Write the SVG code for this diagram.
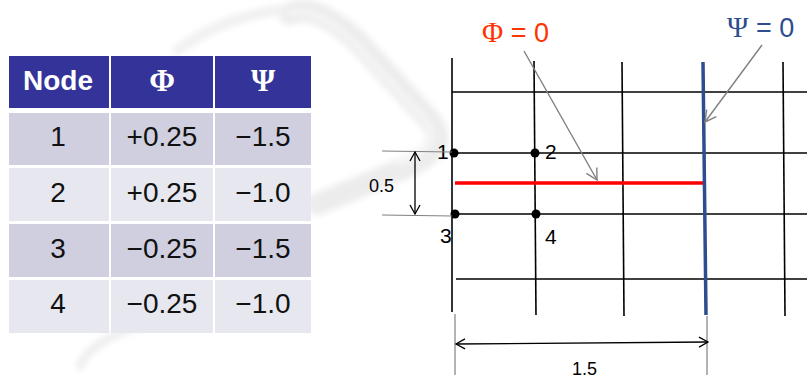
<svg xmlns="http://www.w3.org/2000/svg" width="807" height="379" viewBox="0 0 807 379">
<style>
.hd{fill:#333399}
.r1{fill:#cfcfe0}
.r2{fill:#e7e7ef}
.th{font-family:"Liberation Sans",Arial,sans-serif;font-weight:bold;font-size:28px;fill:#fff;text-anchor:middle}
.tg{font-family:"Liberation Serif","Times New Roman",serif;font-weight:bold;font-size:31px;fill:#fff;text-anchor:middle}
.td{font-family:"Liberation Sans",Arial,sans-serif;font-size:28px;fill:#111;text-anchor:middle}
.grid{stroke:#000;stroke-width:1.6;fill:none}
.ext{stroke:#808080;stroke-width:1.2;fill:none}
.dim{stroke:#000;stroke-width:1.3;fill:none}
.lbl{font-family:"Liberation Sans",Arial,sans-serif;font-size:21px;fill:#000}
.small{font-family:"Liberation Sans",Arial,sans-serif;font-size:18px;fill:#000}
.call{stroke:#808080;stroke-width:1.4;fill:none}
.sw{fill:none;stroke-linecap:round}
.big{font-family:"Liberation Sans",Arial,sans-serif;font-size:27px}
.gk{font-family:"Liberation Serif","Times New Roman",serif;font-size:29px}
</style>
<defs>
<marker id="ah" markerWidth="12" markerHeight="12" refX="10" refY="6" orient="auto-start-reverse" markerUnits="userSpaceOnUse">
<path d="M1,1 L10,6 L1,11" fill="none" stroke="#000" stroke-width="1.3"/>
</marker>
<marker id="ag" markerWidth="14" markerHeight="14" refX="12" refY="7" orient="auto" markerUnits="userSpaceOnUse">
<path d="M1,1 L12,7 L1,13" fill="none" stroke="#808080" stroke-width="1.4"/>
</marker>
<filter id="blur" x="-20%" y="-20%" width="140%" height="140%"><feGaussianBlur stdDeviation="3"/></filter>
</defs>
<rect width="807" height="379" fill="#fff"/>
<g id="swoosh" filter="url(#blur)">
<path class="sw" d="M290,14 C305,6 330,14 360,44 L428,118 C445,138 440,152 405,168 L318,204" stroke="#ececec" stroke-width="22"/>
<path class="sw" d="M290,14 C305,8 328,16 356,44 L424,118 C438,136 434,148 400,163" stroke="#f6f6f6" stroke-width="6"/>
<path class="sw" d="M178,50 C205,30 240,14 282,10" stroke="#f0f0f0" stroke-width="10"/>
<path class="sw" d="M80,366 C86,350 108,336 138,326" stroke="#ededed" stroke-width="8"/>
</g>
<g id="table">
<rect class="hd" x="9" y="56" width="100" height="52"/>
<rect class="hd" x="111" y="56" width="102" height="52"/>
<rect class="hd" x="215" y="56" width="96" height="52"/>
<rect class="r1" x="9" y="113" width="100" height="52"/>
<rect class="r1" x="111" y="113" width="102" height="52"/>
<rect class="r1" x="215" y="113" width="96" height="52"/>
<rect class="r2" x="9" y="168" width="100" height="53"/>
<rect class="r2" x="111" y="168" width="102" height="53"/>
<rect class="r2" x="215" y="168" width="96" height="53"/>
<rect class="r1" x="9" y="224" width="100" height="53"/>
<rect class="r1" x="111" y="224" width="102" height="53"/>
<rect class="r1" x="215" y="224" width="96" height="53"/>
<rect class="r2" x="9" y="280" width="100" height="53"/>
<rect class="r2" x="111" y="280" width="102" height="53"/>
<rect class="r2" x="215" y="280" width="96" height="53"/>
<text class="th" x="58" y="90">Node</text>
<text class="tg" x="162" y="91">Φ</text>
<text class="tg" x="263" y="91">Ψ</text>
<text class="td" x="58" y="146">1</text>
<text class="td" x="162" y="146">+0.25</text>
<text class="td" x="263" y="146">−1.5</text>
<text class="td" x="58" y="202">2</text>
<text class="td" x="162" y="202">+0.25</text>
<text class="td" x="263" y="202">−1.0</text>
<text class="td" x="58" y="258">3</text>
<text class="td" x="162" y="258">−0.25</text>
<text class="td" x="263" y="258">−1.5</text>
<text class="td" x="58" y="313">4</text>
<text class="td" x="162" y="313">−0.25</text>
<text class="td" x="263" y="313">−1.0</text>
</g>
<g id="grid">
<line class="grid" x1="452" y1="58" x2="452" y2="312"/>
<line class="grid" x1="534" y1="61" x2="536" y2="315"/>
<line class="grid" x1="622" y1="62" x2="624" y2="316"/>
<line class="grid" x1="783" y1="62" x2="785" y2="316"/>
<line class="grid" x1="452" y1="92" x2="807" y2="92"/>
<line class="grid" x1="452" y1="153" x2="807" y2="153"/>
<line class="grid" x1="452" y1="214" x2="807" y2="214"/>
<line class="grid" x1="456" y1="279" x2="807" y2="279"/>
</g>
<g id="phi-line"><line x1="455" y1="183" x2="703" y2="183" stroke="#ff0000" stroke-width="3.5"/></g>
<g id="psi-line"><line x1="703" y1="62" x2="706" y2="315" stroke="#2e4d8f" stroke-width="3.5"/></g>
<g id="node1"><circle cx="454" cy="153" r="4.5" fill="#000"/><text class="lbl" x="437" y="159">1</text></g>
<g id="node2"><circle cx="535" cy="153" r="4.5" fill="#000"/><text class="lbl" x="545" y="159">2</text></g>
<g id="node3"><circle cx="455" cy="214" r="4.5" fill="#000"/><text class="lbl" x="440" y="243">3</text></g>
<g id="node4"><circle cx="536" cy="214" r="4.5" fill="#000"/><text class="lbl" x="545" y="244">4</text></g>
<g id="phi-label"><text class="big" x="482" y="42" fill="#ff3300"><tspan class="gk">Φ</tspan> = 0</text></g>
<g id="psi-label"><text class="big" x="727" y="37" fill="#2e4d8f"><tspan class="gk">Ψ</tspan> = 0</text></g>
<g id="connectors">
<line class="call" x1="524" y1="51" x2="597" y2="180" marker-end="url(#ag)"/>
<line class="call" x1="762" y1="45" x2="705" y2="122" marker-end="url(#ag)"/>
<line class="ext" x1="382" y1="151" x2="452" y2="152"/>
<line class="ext" x1="382" y1="215" x2="452" y2="216"/>
<line class="dim" x1="415" y1="152" x2="415" y2="214" marker-start="url(#ah)" marker-end="url(#ah)"/>
<line class="ext" x1="455" y1="314" x2="455" y2="375"/>
<line class="ext" x1="707" y1="316" x2="707" y2="375"/>
<line class="dim" x1="456" y1="344" x2="708" y2="342" marker-start="url(#ah)" marker-end="url(#ah)"/>
</g>
<g id="dim-labels">
<text class="small" x="369" y="192">0.5</text>
<text class="small" x="572" y="375">1.5</text>
</g>
</svg>
